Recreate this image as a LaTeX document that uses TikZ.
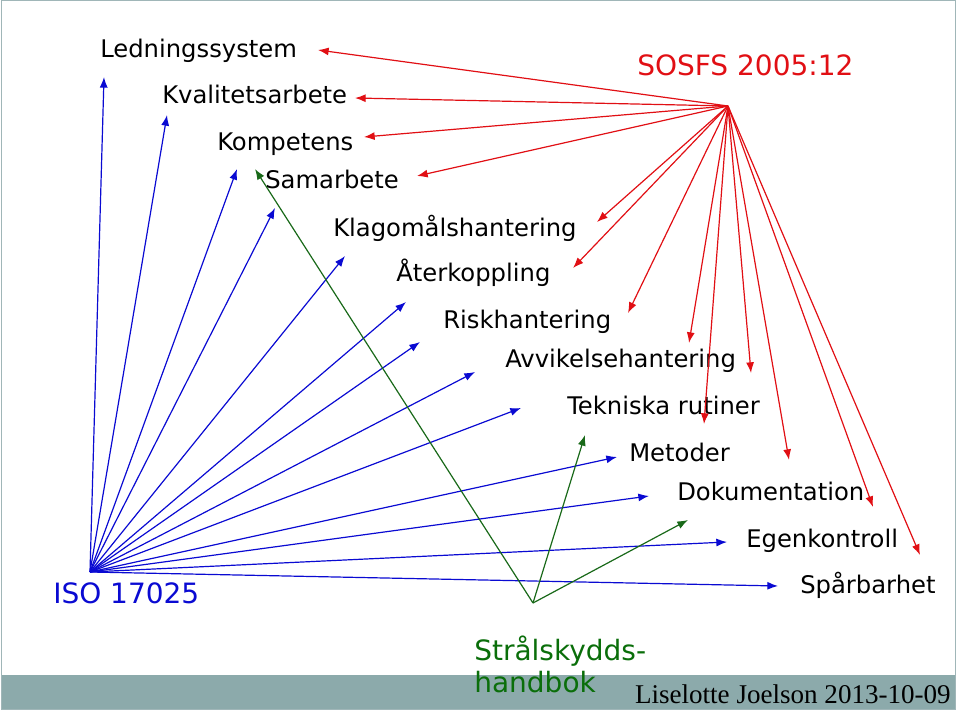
\documentclass[tikz,border=0pt]{standalone}
\usepackage{fontspec}
\setmainfont{DejaVu Sans}
\newfontfamily\datefont{Liberation Serif}
\usetikzlibrary{arrows.meta}
\definecolor{barteal}{RGB}{140,170,171}
\definecolor{framegray}{RGB}{160,182,184}
\definecolor{isoblue}{RGB}{10,10,210}
\definecolor{sosfsred}{RGB}{225,15,20}
\definecolor{ssmgreen}{RGB}{25,105,25}
\definecolor{ssmtext}{RGB}{10,110,10}
\tikzset{lbl/.style={anchor=base west,inner sep=0pt,font=\fontsize{18.2}{22}\selectfont},
big/.style={anchor=base west,inner sep=0pt,font=\fontsize{21}{23.3}\selectfont},
link/.style={line width=0.9pt,-{Latex[length=8pt,width=6pt]}},
isolink/.style={link,draw=isoblue},sosfslink/.style={link,draw=sosfsred},
ssmlink/.style={link,draw=ssmgreen}}

\begin{document}
\begin{tikzpicture}[x=0.75pt,y=-0.75pt]
\useasboundingbox (0,0) rectangle (960,712);
% bottom bar and frame
\fill[barteal] (1,675) rectangle (955,709);
\draw[framegray,line width=0.75pt] (1,1) rectangle (955,709);

% sources
\node[big,text=isoblue] (iso) at (53,603) {ISO 17025};
\node[big,text=sosfsred] (sosfs) at (637,76) {SOSFS 2005:12};
\node[big,text=ssmtext,align=left] (ssm) at (474,692) {Strålskydds-\\handbok};
\node[anchor=base east,inner sep=0pt,font=\datefont\fontsize{20.3}{22}\selectfont] (date) at (951,703) {Liselotte Joelson 2013-10-09};

% topics
\node[lbl] (ledn) at (100,58) {Ledningssystem};
\node[lbl] (kval) at (162,104) {Kvalitetsarbete};
\node[lbl] (komp) at (217,151) {Kompetens};
\node[lbl] (samarb) at (265,189) {Samarbete};
\node[lbl] (klago) at (333,237) {Klagomålshantering};
\node[lbl] (aterk) at (396,282) {Återkoppling};
\node[lbl] (risk) at (443,329) {Riskhantering};
\node[lbl] (avvik) at (505,368) {Avvikelsehantering};
\node[lbl] (tekn) at (567,415) {Tekniska rutiner};
\node[lbl] (metod) at (629,462) {Metoder};
\node[lbl] (dokum) at (677,500) {Dokumentation};
\node[lbl] (egenk) at (746,547) {Egenkontroll};
\node[lbl] (sparb) at (800,593) {Spårbarhet};

% hubs
\coordinate (isohub) at (90,572);
\coordinate (sosfshub) at (728,106);
\coordinate (ssmhub) at (533,603);

% arrows
\foreach \x/\y [count=\i] in {104/77,167/115,237/169,275/208,345/256,406/302,420/342,475/372,521/408,617/457,649/496,727/542,778/586}{
  \coordinate (b\i) at (\x,\y);
  \draw[isolink] (isohub) -- (b\i);
}
\foreach \x/\y [count=\i] in {318/50,355/98,364/137,417/176,597/222,573/268,628/313,689/343,704/424,751/373,789/460,873/507,920/555}{
  \coordinate (r\i) at (\x,\y);
  \draw[sosfslink] (sosfshub) -- (r\i);
}
\foreach \x/\y [count=\i] in {255/169,585/435,688/520}{
  \coordinate (g\i) at (\x,\y);
  \draw[ssmlink] (ssmhub) -- (g\i);
}
\end{tikzpicture}
\end{document}
